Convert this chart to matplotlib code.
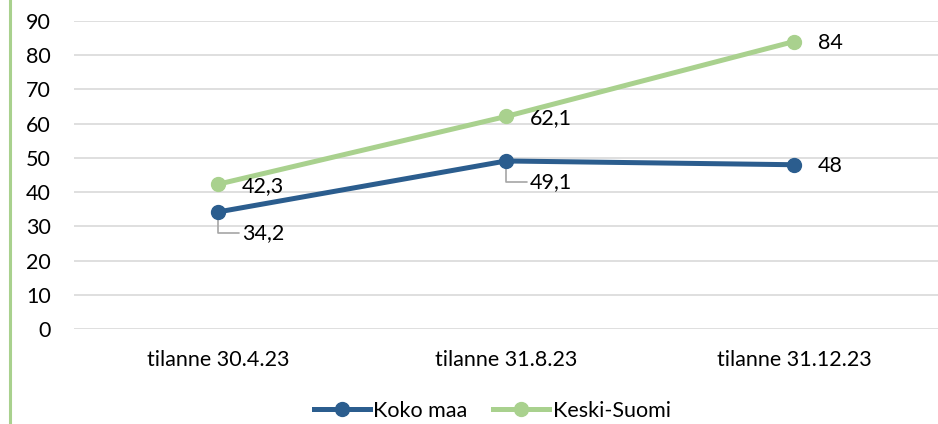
import matplotlib
matplotlib.use("Agg")
import matplotlib.pyplot as plt
from matplotlib.lines import Line2D

categories = ["tilanne 30.4.23", "tilanne 31.8.23", "tilanne 31.12.23"]
koko_maa = [34.2, 49.1, 48]
keski_suomi = [42.3, 62.1, 84]
koko_labels = ["34,2", "49,1", "48"]
keski_labels = ["42,3", "62,1", "84"]
yticks = [0, 10, 20, 30, 40, 50, 60, 70, 80, 90]

plt.rcParams['font.family'] = ['Lato', 'DejaVu Sans']
FS = 15.5

W, H = 938, 424
fig = plt.figure(figsize=(W/100, H/100), dpi=100)
ax = fig.add_axes([74/W, 1-329/H, (938-74)/W, (329-21)/H])

blue = "#2B5D8E"
green = "#A9D18E"

x = list(range(len(categories)))
ax.plot(x, keski_suomi, color=green, lw=3.6, marker='o', ms=10, zorder=3, solid_capstyle='round')
ax.plot(x, koko_maa, color=blue, lw=3.6, marker='o', ms=10, zorder=4, solid_capstyle='round')

ax.set_xlim(-0.5, 2.5)
ax.set_ylim(0, 90)
ax.set_yticks(yticks)
ax.set_xticks(x)
ax.set_xticklabels(categories)
ax.grid(axis='y', color='#D9D9D9', lw=1.2)
ax.set_axisbelow(True)
for s in ax.spines.values():
    s.set_visible(False)
ax.tick_params(axis='both', length=0, labelsize=FS, colors='black')
ax.tick_params(axis='y', pad=16.5)
ax.tick_params(axis='x', pad=15)

# Keski-Suomi labels
for i, (v, t) in enumerate(zip(keski_suomi, keski_labels)):
    ax.annotate(t, (i, v), xytext=(17, -1), textcoords='offset points',
                ha='left', va='center', fontsize=FS)

# Koko maa labels
for i in (0, 1):
    ax.annotate(koko_labels[i], (i, koko_maa[i]), xytext=(17, -15), textcoords='offset points',
                ha='left', va='center', fontsize=FS,
                arrowprops=dict(arrowstyle='-', color='#A6A6A6', lw=1.2,
                                connectionstyle='angle,angleA=0,angleB=90,rad=0',
                                shrinkA=0, shrinkB=4))
ax.annotate(koko_labels[2], (2, koko_maa[2]), xytext=(17, -1), textcoords='offset points',
            ha='left', va='center', fontsize=FS)

handles = [Line2D([], [], color=blue, lw=3.6, marker='o', ms=10),
           Line2D([], [], color=green, lw=3.6, marker='o', ms=10)]
fig.legend(handles, ["Koko maa", "Keski-Suomi"], loc='center', bbox_to_anchor=(0.525, 1-411/H),
           ncol=2, frameon=False, fontsize=FS, handlelength=2.6, handletextpad=0.15,
           columnspacing=1.2, borderaxespad=0)

fig.add_artist(Line2D([9.5/W, 9.5/W], [0, 1], color=green, lw=2.2, transform=fig.transFigure))

fig.savefig("out.png", dpi=100)
